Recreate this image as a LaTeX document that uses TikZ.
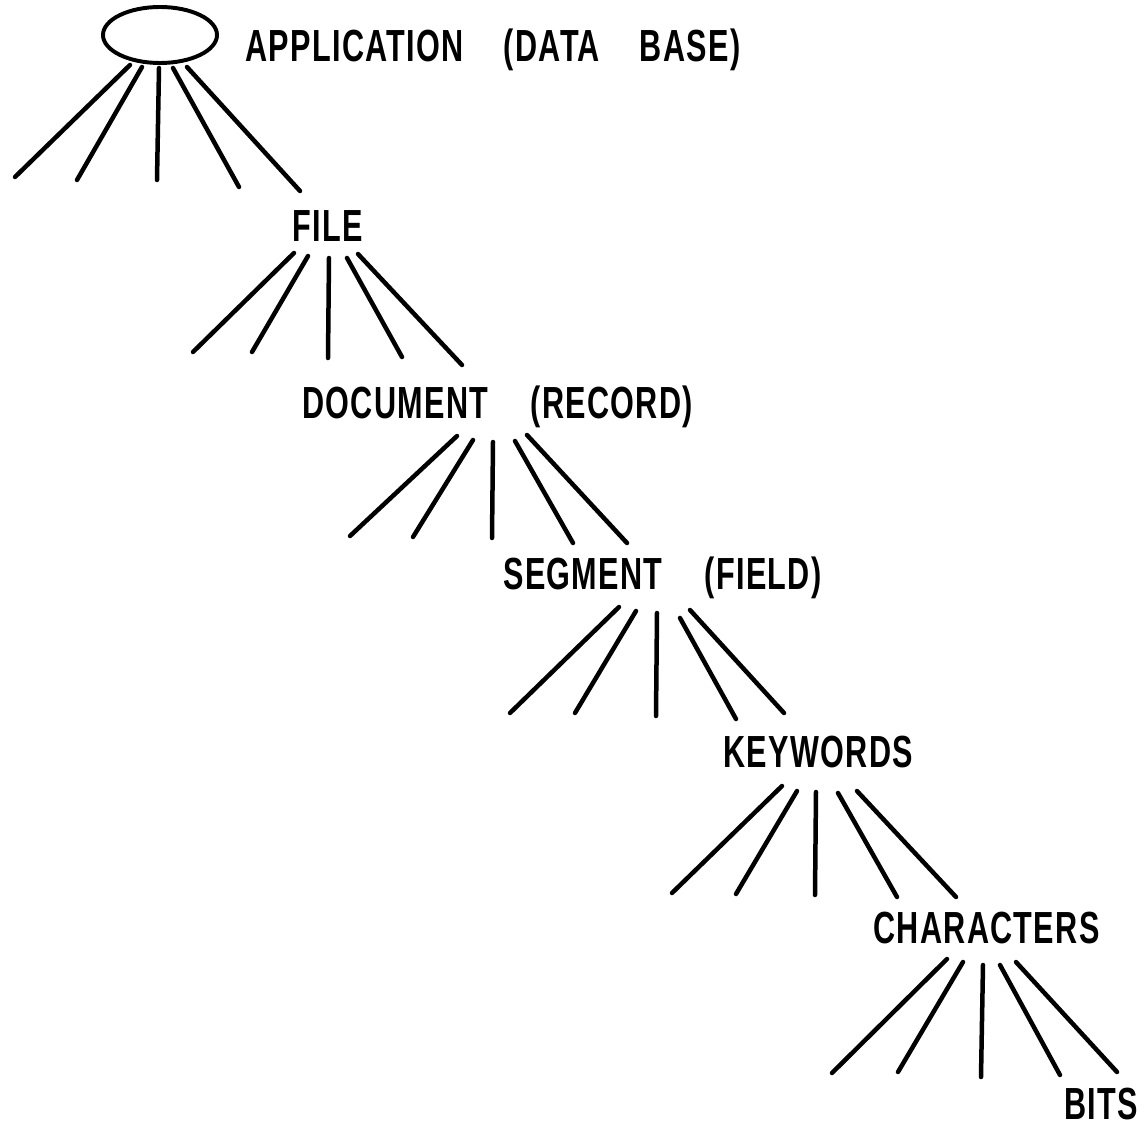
\documentclass[tikz,border=0pt]{standalone}
\usepackage{fontspec}
\usetikzlibrary{shapes.geometric}
\newfontfamily\levelfont{Liberation Sans}[FakeStretch=0.68, LetterSpace=3]

\begin{document}
\begin{tikzpicture}[x=0.025cm, y=-0.025cm]
	\tikzstyle{level} = [anchor=west, inner sep=0, font=\levelfont\bfseries\fontsize{32}{32}\selectfont]
	\tikzstyle{spoke} = [line width=3.2pt, line cap=round]
	\useasboundingbox (0,0) rectangle (1147,1130);
	
	% Top of the hierarchy
	\node[ellipse, draw, line width=2.8pt, minimum width=2.85cm, minimum height=1.4cm] (db) at (160,35) {};
	\node[level] (app) at (245,50) {APPLICATION\hspace{1cm}(DATA\hspace{1cm}BASE)};
	
	% Labels going down the levels
	\node[level] (file) at (292,226) {FILE};
	\node[level] (doc) at (302,407) {DOCUMENT\hspace{1.05cm}(RECORD)};
	\node[level] (seg) at (503,578) {SEGMENT\hspace{1.05cm}(FIELD)};
	\node[level] (kw) at (723,752) {KEYWORDS};
	\node[level] (chr) at (873,928) {CHARACTERS};
	\node[level] (bits) at (1064,1104) {BITS};
	
	% Spokes under each level
	\foreach \a/\b/\c/\d in {130/65/15/177, 142/67/77/180, 159/68/157/180, 173/68/239/187, 187/67/300/191}
		\draw[spoke] (\a,\b) -- (\c,\d);
	\foreach \a/\b/\c/\d in {294/253/193/352, 308/256/252/352, 329/258/328/358, 347/258/402/357, 358/254/462/365}
		\draw[spoke] (\a,\b) -- (\c,\d);
	\foreach \a/\b/\c/\d in {457/436/350/536, 473/440/413/537, 493/442/492/538, 515/441/573/543, 527/435/627/543}
		\draw[spoke] (\a,\b) -- (\c,\d);
	\foreach \a/\b/\c/\d in {619/607/510/713, 636/611/575/713, 657/613/656/716, 680/618/736/719, 690/610/784/713}
		\draw[spoke] (\a,\b) -- (\c,\d);
	\foreach \a/\b/\c/\d in {782/786/672/893, 797/791/736/894, 816/792/815/895, 838/793/897/897, 857/791/956/897}
		\draw[spoke] (\a,\b) -- (\c,\d);
	\foreach \a/\b/\c/\d in {947/959/832/1073, 963/962/898/1072, 983/965/981/1077, 1000/965/1060/1075, 1016/962/1117/1072}
		\draw[spoke] (\a,\b) -- (\c,\d);
	
\end{tikzpicture}
\end{document}
